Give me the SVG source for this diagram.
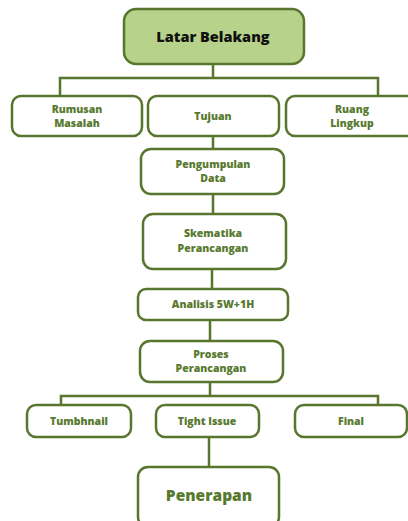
<svg xmlns="http://www.w3.org/2000/svg" width="408" height="521" viewBox="0 0 408 521">
<style>
.box{fill:#ffffff;stroke:#58762e;stroke-width:2.5}
.top{fill:#b7d28a;stroke:#58762e;stroke-width:2.5}
.t{font-family:"Open Sans","Liberation Sans",sans-serif;font-weight:800;font-size:10.5px;fill:#587a30;text-anchor:middle}
.tt{font-family:"Open Sans","Liberation Sans",sans-serif;font-weight:800;font-size:14.5px;fill:#111;text-anchor:middle}
.tp{font-family:"Open Sans","Liberation Sans",sans-serif;font-weight:800;font-size:15.5px;fill:#587a30;text-anchor:middle}
.c{fill:none;stroke:#58762e;stroke-width:2.5}
</style>
<rect width="408" height="521" fill="#ffffff"/>
<g id="connectors">
<path class="c" d="M213 64V78M60 96V78H378V96M213 136V149M213 194V214M212 269V289M210 320V341M210 382V396M61 405V396H378V405M209 437V467"/>
</g>
<g id="latar"><rect class="top" x="124" y="9" width="180" height="55" rx="12"/><text class="tt" x="213" y="42">Latar Belakang</text></g>
<g id="rumusan"><rect class="box" x="12" y="96" width="130" height="40" rx="9"/><text class="t" x="77" y="113">Rumusan</text><text class="t" x="77" y="127">Masalah</text></g>
<g id="tujuan"><rect class="box" x="148" y="96" width="131" height="40" rx="9"/><text class="t" x="213" y="120">Tujuan</text></g>
<g id="ruang"><rect class="box" x="286" y="96" width="130" height="40" rx="9"/><text class="t" x="352" y="113">Ruang</text><text class="t" x="352" y="127">Lingkup</text></g>
<g id="pengumpulan"><rect class="box" x="141" y="149" width="143" height="45" rx="10"/><text class="t" x="213" y="168">Pengumpulan</text><text class="t" x="213" y="182">Data</text></g>
<g id="skematika"><rect class="box" x="143" y="214" width="143" height="55" rx="10"/><text class="t" x="213" y="237">Skematika</text><text class="t" x="213" y="252">Perancangan</text></g>
<g id="analisis"><rect class="box" x="138" y="289" width="150" height="31" rx="8"/><text class="t" x="213" y="308">Analisis 5W+1H</text></g>
<g id="proses"><rect class="box" x="140" y="341" width="143" height="41" rx="10"/><text class="t" x="211" y="358">Proses</text><text class="t" x="211" y="372">Perancangan</text></g>
<g id="tumbhnail"><rect class="box" x="27" y="405" width="104" height="32" rx="9"/><text class="t" x="79" y="425">Tumbhnail</text></g>
<g id="tight"><rect class="box" x="156" y="405" width="103" height="32" rx="9"/><text class="t" x="207" y="425">Tight Issue</text></g>
<g id="final"><rect class="box" x="295" y="405" width="112" height="32" rx="9"/><text class="t" x="351" y="425">Final</text></g>
<g id="penerapan"><rect class="box" x="138" y="467" width="141" height="60" rx="10"/><text class="tp" x="209" y="501">Penerapan</text></g>
</svg>
